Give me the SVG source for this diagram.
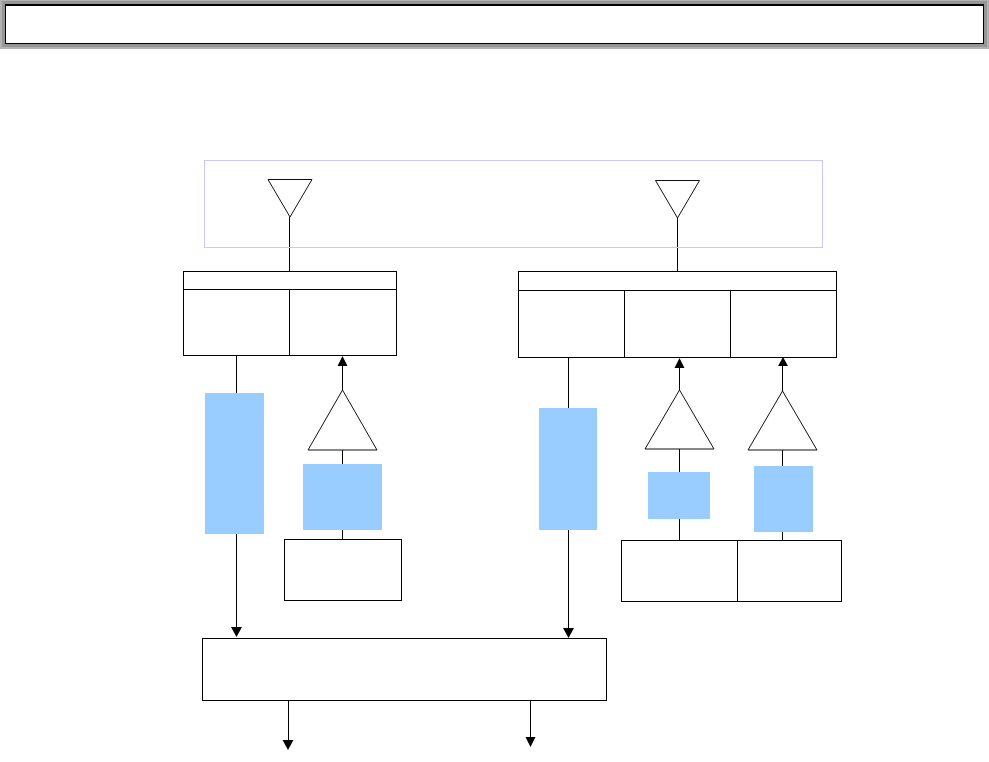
<svg xmlns="http://www.w3.org/2000/svg" width="989" height="762" viewBox="0 0 989 762">
<style>
.b{fill:#fff;stroke:#000;stroke-width:1}
.t{fill:#fff;stroke:#111;stroke-width:1}
.f{fill:#99ccff;stroke:none}
.l{fill:none;stroke:#000;stroke-width:1}
.a{fill:#000;stroke:none}
</style>
<rect width="989" height="762" fill="#fff"/>
<g id="title-bar">
<rect x="0" y="0" width="989" height="49" fill="#b2b2b2"/>
<rect x="2" y="1" width="985" height="46" fill="#969696"/>
<rect x="5.500" y="4.500" width="978" height="39" fill="#fff" stroke="#000" stroke-width="1"/>
<path d="M5 5.500H984" stroke="#000" stroke-width="1"/>
</g>
<g id="connectors">
<path class="l" d="M289.500 217V271M677.500 217V272M236.500 355V393M236.500 534V630M342.500 364V390M342.500 450V464M342.500 530V540M568.500 357V408M568.500 530V630M679.500 364V390M679.500 449V472M679.500 519V541M782.500 364V391M782.500 450V466M782.500 532V541M288.500 700V742M530.500 700V738"/>
<path class="a" d="M342.500 356L347.500 366H337.500ZM679.500 358L684.500 368H674.500ZM783 357L788 366H778ZM236.500 637L231 627H242ZM568.500 638L563 628H574ZM288 750L282.500 740H293.500ZM530.500 747L525.500 737H535.500Z"/>
</g>
<g id="antenna-frame"><rect x="204.500" y="160.500" width="618" height="87" fill="none" stroke="#c8c8ff" stroke-width="1"/></g>
<g id="antenna-left"><path class="t" d="M268 179.500H312L290 217Z"/></g>
<g id="antenna-right"><path class="t" d="M655.500 180.500H699.500L677.500 218Z"/></g>
<g id="left-duplexer">
<rect class="b" x="183.500" y="271.500" width="213" height="84"/>
<path class="l" d="M183.500 289.500H396.500M289.500 289.500V355.500"/>
</g>
<g id="right-duplexer">
<rect class="b" x="518.500" y="271.500" width="318" height="86"/>
<path class="l" d="M518.500 290.500H836.500M624.500 290.500V357.500M730.500 290.500V357.500"/>
</g>
<g id="filter-1"><rect class="f" x="205" y="393" width="59" height="141"/></g>
<g id="amp-1"><path class="t" d="M342.500 390L377 450H308Z"/></g>
<g id="filter-2"><rect class="f" x="303" y="464" width="79" height="66"/></g>
<g id="source-1"><rect class="b" x="284.500" y="539.500" width="117" height="61"/></g>
<g id="filter-3"><rect class="f" x="539" y="408" width="58" height="122"/></g>
<g id="amp-2"><path class="t" d="M679.500 390L714 449H645Z"/></g>
<g id="filter-4"><rect class="f" x="648" y="472" width="62" height="47"/></g>
<g id="amp-3"><path class="t" d="M782.500 391L817 450H748Z"/></g>
<g id="filter-5"><rect class="f" x="754" y="466" width="59" height="66"/></g>
<g id="source-2">
<rect class="b" x="621.500" y="540.500" width="220" height="61"/>
<path class="l" d="M737.500 540.500V601.500"/>
</g>
<g id="baseband"><rect class="b" x="202.500" y="638.500" width="404" height="62"/></g>
</svg>
